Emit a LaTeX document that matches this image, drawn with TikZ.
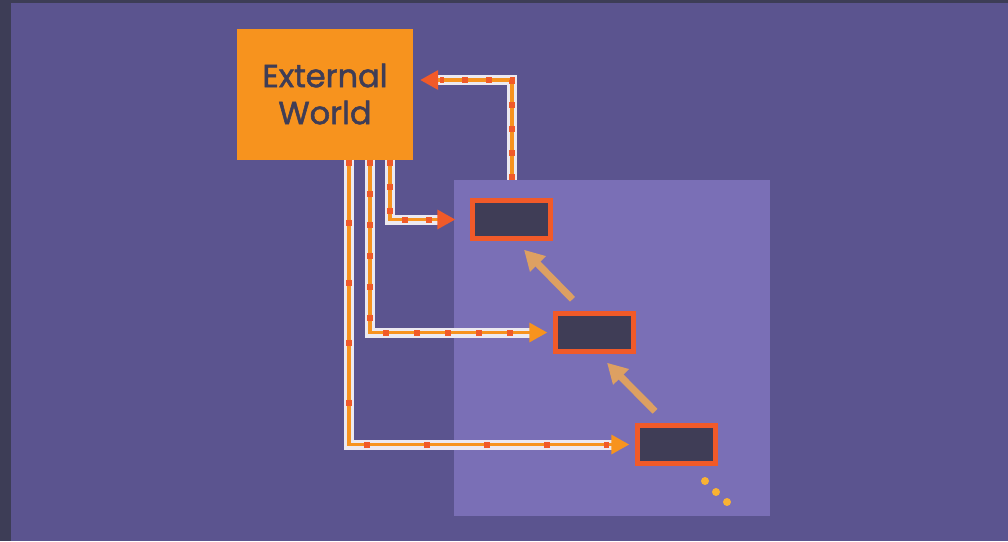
\documentclass[tikz,border=0pt]{standalone}
\usepackage{fontspec}
\usepackage{tikz}
\usetikzlibrary{arrows.meta,positioning,calc}
\newfontfamily\labelfont{Poppins}[FakeBold=1.6]
\definecolor{frameslate}{RGB}{61, 61, 86}
\definecolor{bgviolet}{RGB}{91, 84, 143}
\definecolor{panelviolet}{RGB}{122, 111, 182}
\definecolor{worldorange}{RGB}{247, 147, 30}
\definecolor{signalred}{RGB}{241, 90, 41}
\definecolor{wirewhite}{RGB}{236, 233, 240}
\definecolor{stepdark}{RGB}{63, 61, 86}
\definecolor{chaintan}{RGB}{221, 160, 98}
\definecolor{dotyellow}{RGB}{249, 178, 51}

\tikzset{
  world/.style={fill=worldorange, minimum width=176pt, minimum height=131pt, inner sep=0pt,
    font=\labelfont\fontsize{32}{37}\selectfont, text=stepdark, align=center},
  stepbox/.style={draw=signalred, fill=stepdark, line width=4.5pt, minimum width=78pt, minimum height=38pt, inner sep=0pt},
  flow/.style 2 args={draw=worldorange, line width=3.5pt, -{Triangle[length=18pt,width=19pt,color=#2]},
    preaction={draw=wirewhite, line width=10pt, -, shorten >=14pt},
    postaction={draw=signalred, line width=6pt, -, shorten >=20pt, dash pattern=on 6pt off #1}},
  chain/.style={draw=chaintan, line width=7pt, -{Triangle[length=20pt,width=21pt]}},
}

\begin{document}
\begin{tikzpicture}[x=1pt, y=-1pt]
        % Background
        \fill[frameslate] (0,0) rectangle (1008,541);
        \fill[bgviolet] (11,3) rectangle (1008,541);
        \useasboundingbox (0,0) rectangle (1008,541);

        % Panel holding the steps
        \node[fill=panelviolet, minimum width=316pt, minimum height=336pt, inner sep=0pt] (panel) at (612,348) {};

        % External world
        \node[world] (ext) at (325,94) {External\\World};

        % Steps
        \node[stepbox] (box1) at (511.5,219.5) {};
        \node[stepbox] (box2) at (594.5,332.5) {};
        \node[stepbox] (box3) at (676.5,444.5) {};

        % Wires from the world
        \draw[flow={18pt}{signalred}] ([xshift=65pt]ext.south) |- ([xshift=-15pt]box1.west);
        \draw[flow={25pt}{worldorange}] ([xshift=45pt]ext.south) |- ([xshift=-6pt]box2.west);
        \draw[flow={54pt}{worldorange}] ([xshift=24pt]ext.south) |- ([xshift=-6pt]box3.west);

        % Wire back to the world
        \draw[flow={18pt}{signalred}] ([xshift=-100pt]panel.north) |- ([xshift=7pt,yshift=14pt]ext.east);

        % Chain between steps
        \draw[chain] ([xshift=-22pt,yshift=12pt]box2.north) -- ([xshift=12.5pt,yshift=-9pt]box1.south);
        \draw[chain] ([xshift=-21.5pt,yshift=12pt]box3.north) -- ([xshift=12.5pt,yshift=-9pt]box2.south);

        % More steps follow
        \fill[dotyellow] (705,481) circle (4pt) (716,492) circle (4pt) (727,502) circle (4pt);
    \end{tikzpicture}
\end{document}
